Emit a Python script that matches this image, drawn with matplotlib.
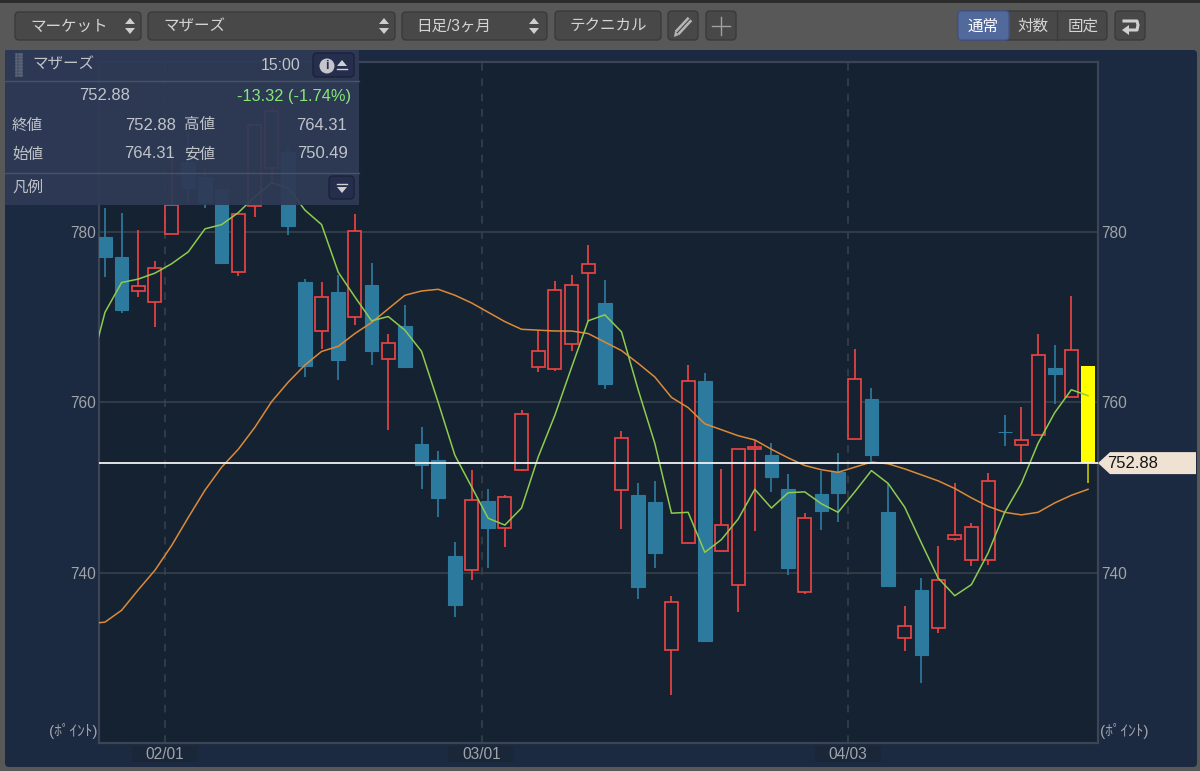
import matplotlib
matplotlib.use("Agg")
import matplotlib.pyplot as plt
from matplotlib.patches import FancyBboxPatch, Polygon, Rectangle

plt.rcParams['font.family'] = ['Liberation Sans', 'Noto Sans CJK JP', 'DejaVu Sans']

# daily candles
opens = [779.4, 777.1, 773.1, 771.8, 779.8, 788.2, 786.5, 785.1, 775.3, 783.1,
         787.5, 789.4, 774.2, 768.4, 773.0, 770.1, 773.8, 765.1, 769.0, 755.1,
         753.3, 742.0, 740.3, 748.4, 745.2, 752.1, 764.2, 763.9, 766.9, 775.2,
         771.7, 749.7, 749.1, 748.3, 730.9, 743.5, 762.5, 742.5, 738.6, 754.5,
         753.8, 749.8, 737.7, 749.2, 751.8, 755.7, 760.4, 747.1, 732.3, 738.0,
         733.5, 744.0, 741.5, 741.5, 756.5, 755.0, 756.2, 764.0, 760.6, 764.31]
closes = [777.1, 770.9, 773.7, 775.8, 783.2, 785.2, 783.6, 776.4, 782.1, 792.6,
          794.3, 780.7, 764.3, 772.4, 765.0, 780.1, 766.0, 767.0, 764.2, 752.6,
          748.8, 736.2, 748.6, 745.2, 748.9, 758.6, 766.0, 773.2, 773.8, 776.3,
          762.2, 755.8, 738.3, 742.3, 736.6, 762.5, 732.0, 745.6, 754.5, 754.8,
          751.2, 740.5, 746.4, 747.3, 749.4, 762.8, 753.8, 738.5, 733.7, 730.3,
          739.2, 744.4, 745.4, 750.8, 756.5, 755.6, 765.6, 763.4, 766.2, 752.88]
highs = [782.9, 782.3, 780.3, 776.6, 789.4, 791.8, 787.7, 785.1, 782.1, 792.6,
         794.6, 789.8, 774.5, 774.1, 775.0, 782.2, 776.4, 768.1, 771.5, 757.1,
         754.3, 743.6, 752.1, 749.8, 749.1, 759.1, 768.5, 774.3, 775.0, 778.5,
         774.4, 756.6, 750.6, 750.8, 737.3, 764.4, 763.5, 752.2, 754.5, 755.6,
         755.2, 751.6, 747.0, 752.0, 754.1, 766.3, 761.7, 750.6, 736.1, 739.4,
         743.2, 750.5, 745.8, 751.7, 758.5, 759.5, 768.0, 766.8, 772.5, 764.31]
lows = [774.8, 770.5, 772.4, 768.9, 779.8, 783.5, 782.9, 776.3, 774.9, 781.8,
        785.8, 779.7, 763.0, 766.3, 762.6, 769.1, 764.4, 756.8, 764.2, 749.8,
        746.5, 734.8, 739.2, 740.6, 743.0, 751.9, 763.6, 763.7, 766.0, 769.5,
        761.6, 745.1, 736.9, 740.5, 725.6, 743.5, 732.0, 742.5, 735.4, 744.9,
        749.5, 739.7, 737.5, 745.0, 746.0, 755.7, 753.1, 738.4, 730.8, 727.1,
        732.9, 743.7, 740.8, 740.9, 754.9, 752.9, 756.2, 759.8, 760.6, 750.49]

# moving averages, first point sits just left of the plot
ma_short = [763.1, 770.6, 774.1, 774.5, 775.2, 776.3, 777.7, 780.4, 780.9, 782.3, 784.2,
            785.8, 785.2, 782.6, 780.9, 775.3, 772.4, 769.6, 770.1, 768.5, 766.0,
            760.0, 753.8, 750.1, 746.4, 745.6, 747.6, 753.6, 758.5, 764.1, 769.6,
            770.3, 768.3, 761.5, 755.2, 747.0, 747.1, 742.4, 743.9, 746.3, 749.8,
            747.6, 749.4, 749.5, 748.1, 747.1, 749.5, 752.0, 750.5, 747.7, 743.5,
            739.4, 737.3, 738.6, 742.3, 747.1, 750.5, 755.2, 758.8, 761.5, 760.8]
ma_long = [734.0, 734.2, 735.6, 738.0, 740.3, 743.2, 746.5, 749.7, 752.4, 754.5, 757.1,
           760.1, 762.4, 764.4, 766.0, 766.6, 768.1, 769.4, 771.0, 772.6, 773.1,
           773.3, 772.6, 771.7, 770.6, 769.5, 768.6, 768.5, 768.4, 768.4, 768.1,
           767.1, 766.1, 764.6, 763.0, 760.6, 759.4, 757.5, 756.8, 756.1, 755.6,
           754.5, 753.5, 752.6, 752.1, 751.8, 752.4, 753.0, 752.8, 752.2, 751.5,
           750.8, 749.9, 748.8, 747.8, 747.1, 746.8, 747.1, 748.2, 749.1, 749.8]

date_pos = [3.6, 22.6, 44.6]
date_labels = ['02/01', '03/01', '04/03']
price_ticks = [740, 760, 780]
last_price = 752.88

RED = '#ea4343'
BLUE = '#2d7a9f'
PLOT_BG = '#152231'
PANEL_BG = '#1b2a40'
FRAME = '#3b4556'
TXT = '#a0a3a9'
INFO = '#c0c3c9'

W, H = 1200, 771
fig = plt.figure(figsize=(W / 100, H / 100), dpi=100, facecolor='#585858')


def pixel_axes(z):
    a = fig.add_axes([0, 0, 1, 1], zorder=z)
    a.set_xlim(0, W)
    a.set_ylim(H, 0)
    a.axis('off')
    return a


def button(a, x0, y0, x1, y1, color='#484848', edge='#3a3a3a', r=4):
    a.add_patch(FancyBboxPatch((x0, y0), x1 - x0, y1 - y0, boxstyle='round,pad=0,rounding_size=%d' % r,
                               fc=color, ec=edge, lw=1))


def updown(a, x, y):
    a.add_patch(Polygon([(x - 5, y - 2), (x + 5, y - 2), (x, y - 8)], fc='#cfcfcf', ec='none'))
    a.add_patch(Polygon([(x - 5, y + 2), (x + 5, y + 2), (x, y + 8)], fc='#cfcfcf', ec='none'))


back = pixel_axes(0)
back.add_patch(Rectangle((0, 0), W, 3, fc='#2c2c2c', ec='none'))
back.add_patch(FancyBboxPatch((5, 50), 1192, 717, boxstyle='round,pad=0,rounding_size=4', fc=PANEL_BG, ec='none'))
for p in date_pos:
    # darker box behind the date labels
    back.add_patch(Rectangle((105 + 16.65 * p - 33, 746), 66, 16, fc='#1a2739', ec='none'))

ax = fig.add_axes([99 / W, 1 - 743 / H, 999 / W, 681 / H], zorder=1, facecolor=PLOT_BG)
ax.set_xlim(-0.36, 59.6)
ax.set_ylim(720, 800)
for s in ax.spines.values():
    s.set_color(FRAME)
    s.set_linewidth(1.6)

ax.set_yticks(price_ticks)
ax.set_xticks(date_pos)
ax.set_xticklabels(date_labels)
ax.tick_params(axis='both', length=0, colors=TXT, labelsize=11.2)
ax.tick_params(axis='y', labelright=True, pad=2)
ax.tick_params(axis='x', pad=3)
for y in price_ticks:
    ax.axhline(y, color='#3a424e', lw=1.1, zorder=1)
for p in date_pos:
    ax.axvline(p, color='#38434f', lw=1.1, dashes=(5, 5), zorder=1)

for i in range(len(opens)):
    o, c, h, l = opens[i], closes[i], highs[i], lows[i]
    top, bot = max(o, c), min(o, c)
    if i == len(opens) - 1:
        ax.vlines(i, l, bot, color='#c6c600', lw=1.2, zorder=3)
        ax.bar(i, top - bot, 0.84, bottom=bot, color='#ffff00', zorder=3)
    elif c > o:
        ax.vlines(i, top, h, color=RED, lw=1.25, zorder=3)
        ax.vlines(i, l, bot, color=RED, lw=1.25, zorder=3)
        ax.bar(i, top - bot, 0.78, bottom=bot, facecolor=PLOT_BG, edgecolor=RED, lw=1.25, zorder=3)
    else:
        ax.vlines(i, l, h, color=BLUE, lw=1.25, zorder=3)
        ax.bar(i, top - bot, 0.82, bottom=bot, facecolor=BLUE, edgecolor=BLUE, lw=0.8, zorder=3)

xs = list(range(-1, 60))
ax.plot(xs, ma_long, color='#dd8a38', lw=1.1, zorder=4)
ax.plot(xs, ma_short, color='#8ecb4f', lw=1.1, zorder=4)
ax.axhline(last_price, color='#f2f2f2', lw=1.3, zorder=5)

top = pixel_axes(2)

# price tag on the right
tag_y = H - ax.transData.transform((0, last_price))[1]
top.add_patch(Polygon([(1098, tag_y), (1110, tag_y - 11), (1196, tag_y - 11), (1196, tag_y + 11), (1110, tag_y + 11)],
                      fc='#efe2d3', ec='none'))
top.text(1107, tag_y + 0.5, '%.2f' % last_price, color='#151515', fontsize=12, va='center', ha='left')

top.text(97, 731, '(ﾎﾟｲﾝﾄ)', color=TXT, fontsize=11, va='center', ha='right')
top.text(1100, 731, '(ﾎﾟｲﾝﾄ)', color=TXT, fontsize=11, va='center', ha='left')

# toolbar
button(top, 15, 12, 141, 40)
top.text(30, 26, 'マーケット', color='#d4d4d4', fontsize=11.2, va='center')
updown(top, 130, 26)
button(top, 148, 12, 395, 40)
top.text(163, 26, 'マザーズ', color='#d4d4d4', fontsize=11.2, va='center')
updown(top, 384, 26)
button(top, 402, 12, 547, 40)
top.text(416, 26, '日足/3ヶ月', color='#d4d4d4', fontsize=11.2, va='center')
updown(top, 534, 26)
button(top, 555, 11, 661, 40)
top.text(608, 25.5, 'テクニカル', color='#d4d4d4', fontsize=11.2, va='center', ha='center')
button(top, 668, 11, 698, 40)
top.plot([677, 690], [33, 19], color='#b4b4b4', lw=4.5, solid_capstyle='butt')
top.plot([677, 690], [33, 19], color='#484848', lw=0.8, solid_capstyle='butt')
top.add_patch(Polygon([(674, 37), (675, 31), (679, 35)], fc='#b4b4b4', ec='none'))
button(top, 706, 11, 736, 40)
top.plot([712, 730], [26, 26], color='#a0a0a0', lw=1)
top.plot([721, 721], [17, 35], color='#a0a0a0', lw=1)

button(top, 958, 11, 1107, 40)
button(top, 958, 11, 1009, 40, color='#52699c', edge='#44568a')
top.plot([1057, 1057], [11, 40], color='#3a3a3a', lw=1)
top.text(983, 26, '通常', color='#ffffff', fontsize=11.2, va='center', ha='center')
top.text(1033, 26, '対数', color='#d4d4d4', fontsize=11.2, va='center', ha='center')
top.text(1083, 26, '固定', color='#d4d4d4', fontsize=11.2, va='center', ha='center')
button(top, 1115, 11, 1145, 40)
top.plot([1124, 1137, 1138, 1137, 1127], [21, 21, 25, 30, 30], color='#d0d0d0', lw=2.2, solid_joinstyle='round')
top.add_patch(Polygon([(1122, 30), (1129, 25), (1129, 35)], fc='#d0d0d0', ec='none'))

# info panel, the candles show faintly through it
top.add_patch(Rectangle((5, 50), 354, 155, fc='#2f3b56', ec='none', alpha=0.94))
top.plot([5, 359], [81, 81], color='#4a5266', lw=1)
top.plot([5, 359], [173, 173], color='#4a5266', lw=1)
for gx in (16, 18.5, 21):
    top.plot([gx] * 8, [54 + 3 * k for k in range(8)], ls='none', marker='s', ms=1, color='#5a6276')
top.text(32, 64, 'マザーズ', color=INFO, fontsize=11.2, va='center')
top.text(301, 65, '15:00', color=INFO, fontsize=11.4, va='center', ha='right')
button(top, 313, 53, 354, 77, color='#262e4e', edge='#1c2238')
top.text(327, 66, 'i', color='#262e4e', fontsize=9, va='center', ha='center', weight='bold',
         bbox=dict(boxstyle='circle,pad=0.12', fc='#c4c6cc', ec='none'))
top.add_patch(Polygon([(337, 66), (347, 66), (342, 60)], fc='#d0d0d0', ec='none'))
top.plot([337, 347], [69, 69], color='#d0d0d0', lw=1)

top.text(130, 96, '%.2f' % last_price, color=INFO, fontsize=12, va='center', ha='right')
top.text(351, 96, '-13.32 (-1.74%)', color='#86e87a', fontsize=11.8, va='center', ha='right')
top.text(12, 125, '終値', color=INFO, fontsize=11.2, va='center')
top.text(176, 125, '752.88', color=INFO, fontsize=12, va='center', ha='right')
top.text(184, 125, '高値', color=INFO, fontsize=11.2, va='center')
top.text(347, 125, '764.31', color=INFO, fontsize=12, va='center', ha='right')
top.text(12, 154, '始値', color=INFO, fontsize=11.2, va='center')
top.text(175, 154, '764.31', color=INFO, fontsize=12, va='center', ha='right')
top.text(184, 154, '安値', color=INFO, fontsize=11.2, va='center')
top.text(348, 154, '750.49', color=INFO, fontsize=12, va='center', ha='right')
top.text(12, 187, '凡例', color=INFO, fontsize=11.2, va='center')
button(top, 329, 176, 354, 199, color='#262e4e', edge='#1c2238')
top.plot([337, 347], [184, 184], color='#d0d0d0', lw=1)
top.add_patch(Polygon([(337, 187), (347, 187), (342, 193)], fc='#d0d0d0', ec='none'))

fig.savefig('out.png', dpi=100, facecolor=fig.get_facecolor())
